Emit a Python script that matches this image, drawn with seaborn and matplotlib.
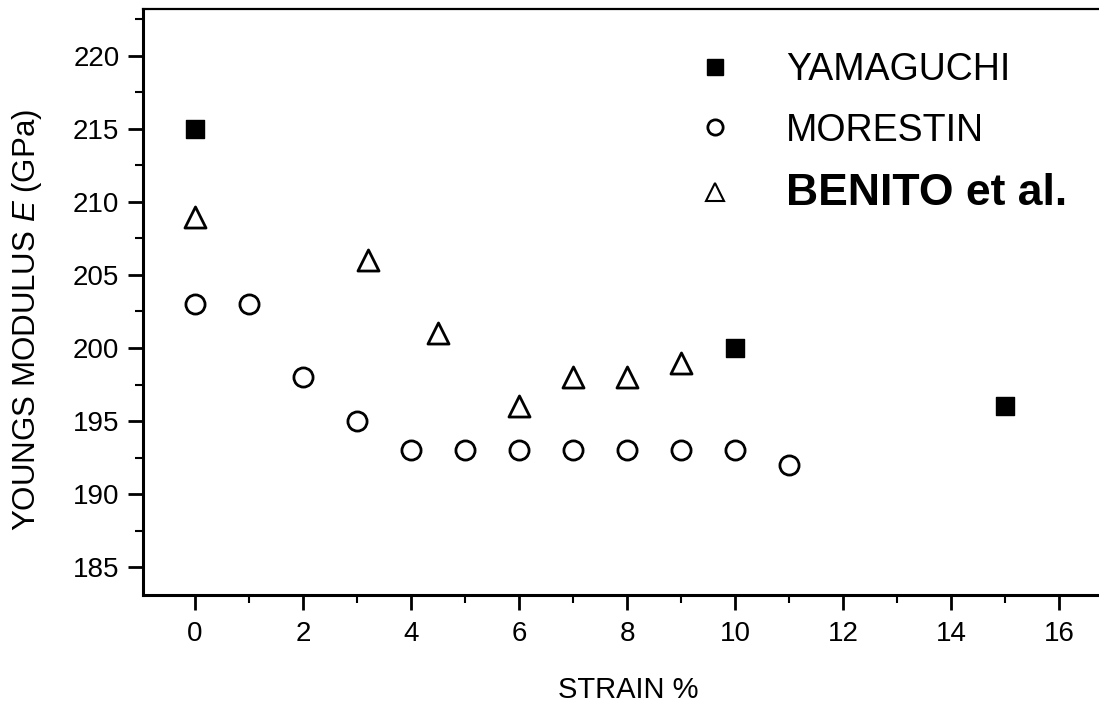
import matplotlib
matplotlib.use("Agg")
import matplotlib.pyplot as plt
import seaborn as sns
import pandas as pd
from matplotlib.lines import Line2D
from matplotlib.ticker import MultipleLocator

# Young's modulus versus pre-strain, three data sources
yamaguchi_strain = [0, 10, 15]
yamaguchi_E = [215, 200, 196]

morestin_strain = [0, 1, 2, 3, 4, 5, 6, 7, 8, 9, 10, 11]
morestin_E = [203, 203, 198, 195, 193, 193, 193, 193, 193, 193, 193, 192]

benito_strain = [0, 3.2, 4.5, 6, 7, 8, 9]
benito_E = [209, 206, 201, 196, 198, 198, 199]

series_labels = ["YAMAGUCHI", "MORESTIN", "BENITO et al."]
x_ticks = [0, 2, 4, 6, 8, 10, 12, 14, 16]
y_ticks = [185, 190, 195, 200, 205, 210, 215, 220]

sns.set_style("ticks")
plt.rcParams["font.family"] = ["Liberation Sans", "DejaVu Sans"]
plt.rcParams["mathtext.fontset"] = "custom"
plt.rcParams["mathtext.it"] = "Liberation Sans:italic"
plt.rcParams["mathtext.rm"] = "Liberation Sans"
plt.rcParams["text.color"] = "black"
plt.rcParams["axes.labelcolor"] = "black"
plt.rcParams["xtick.color"] = "black"
plt.rcParams["ytick.color"] = "black"

df_y = pd.DataFrame({"strain": yamaguchi_strain, "E": yamaguchi_E})
df_m = pd.DataFrame({"strain": morestin_strain, "E": morestin_E})
df_b = pd.DataFrame({"strain": benito_strain, "E": benito_E})

fig = plt.figure(figsize=(10.99, 7.04), dpi=100)
ax = fig.add_axes([143 / 1099, 1 - 595 / 704, 1 - 143 / 1099, (595 - 9) / 704])

sns.scatterplot(data=df_y, x="strain", y="E", marker="s", s=170,
                color="black", edgecolor="black", linewidth=1, ax=ax, zorder=3)
sns.scatterplot(data=df_m, x="strain", y="E", marker="o", s=190,
                color="white", edgecolor="black", linewidth=2, ax=ax, zorder=3)
sns.scatterplot(data=df_b, x="strain", y="E", marker="^", s=230,
                color="white", edgecolor="black", linewidth=2, ax=ax, zorder=3)

ax.set_xlim(-0.963, 16.74)
ax.set_ylim(183.1, 223.2)
ax.set_xticks(x_ticks)
ax.set_yticks(y_ticks)
ax.xaxis.set_minor_locator(MultipleLocator(1))
ax.yaxis.set_minor_locator(MultipleLocator(2.5))
ax.tick_params(axis="both", which="major", direction="out", length=11,
               width=2, labelsize=20, color="black", labelcolor="black")
ax.tick_params(axis="both", which="minor", direction="out", length=6,
               width=1.5, color="black")
ax.tick_params(axis="x", which="major", pad=8)
ax.tick_params(axis="y", which="major", pad=6)

for side in ["left", "bottom"]:
    ax.spines[side].set_linewidth(2.2)
    ax.spines[side].set_color("black")
ax.spines["top"].set_linewidth(1.6)
ax.spines["top"].set_color("black")
ax.spines["right"].set_visible(False)

ax.set_xlabel("STRAIN %", fontsize=21)
ax.xaxis.set_label_coords(0.508, -0.138)
ax.set_ylabel(r"YOUNGS MODULUS $\mathit{E}$ (GPa)", fontsize=22.5)
ax.yaxis.set_label_coords(-0.104, 0.47)

handles = [
    Line2D([], [], ls="none", marker="s", ms=11, mfc="black", mec="black"),
    Line2D([], [], ls="none", marker="o", ms=11, mfc="white", mec="black", mew=2),
    Line2D([], [], ls="none", marker="^", ms=13, mfc="white", mec="black", mew=1.5),
]
leg = ax.legend(handles, series_labels, loc="upper left",
                bbox_to_anchor=(0.543, 0.984), frameon=False,
                fontsize=27, labelspacing=0.65, handletextpad=1.4,
                handlelength=1.0)
texts = leg.get_texts()
for t in texts:
    t.set_color("black")
texts[2].set_fontweight("bold")
texts[2].set_fontsize(32)

fig.savefig("out.png", dpi=100, facecolor="white")
